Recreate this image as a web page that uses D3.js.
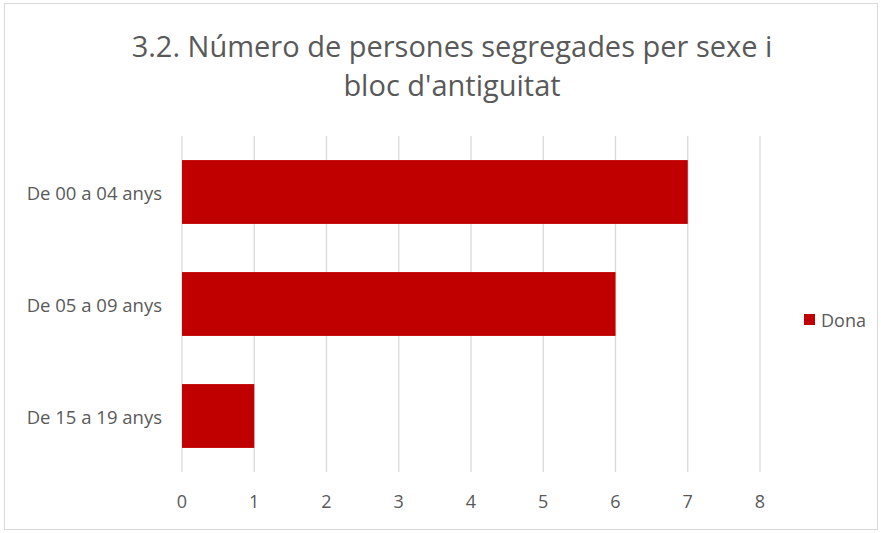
<!DOCTYPE html>
<html>
<head>
<meta charset="utf-8">
<script src="https://cdn.jsdelivr.net/npm/d3@7"></script>
<style>
  body { margin: 0; background: #fff; }
  text { font-family: "Open Sans", "Liberation Sans", sans-serif; fill: #595959; }
</style>
</head>
<body>
<div id="chart"></div>
<script>
// data
const categories = ["De 00 a 04 anys", "De 05 a 09 anys", "De 15 a 19 anys"];
const dona = [7, 6, 1];
const xTicks = [0, 1, 2, 3, 4, 5, 6, 7, 8];
const titleLines = ["3.2. Número de persones segregades per sexe i", "bloc d'antiguitat"];
const seriesName = "Dona";

const w = 881, h = 533;
const plotLeft = 182, plotRight = 760, plotTop = 136, plotBottom = 472;

const svg = d3.select("#chart")
  .append("svg")
  .attr("width", w)
  .attr("height", h);

// chart border
svg.append("rect")
  .attr("x", 4.5).attr("y", 3.5)
  .attr("width", 873).attr("height", 526)
  .attr("fill", "#fff")
  .attr("stroke", "#d9d9d9");

const x = d3.scaleLinear().domain([0, 8]).range([plotLeft, plotRight]);
const y = d3.scaleBand().domain(categories).range([plotTop, plotBottom]).paddingInner(0.43).paddingOuter(0.215);

// gridlines
svg.selectAll(".grid")
  .data(xTicks)
  .enter()
  .append("line")
  .attr("x1", d => x(d)).attr("x2", d => x(d))
  .attr("y1", plotTop).attr("y2", plotBottom)
  .attr("stroke", "#d9d9d9")
  .attr("stroke-width", 1.3);

// bars
svg.selectAll(".bar")
  .data(categories)
  .enter()
  .append("rect")
  .attr("x", x(0))
  .attr("y", d => y(d))
  .attr("width", (d, i) => x(dona[i]) - x(0))
  .attr("height", y.bandwidth())
  .attr("fill", "#c00000");

// x tick labels
svg.selectAll(".xt")
  .data(xTicks)
  .enter()
  .append("text")
  .attr("x", d => x(d))
  .attr("y", 501)
  .attr("text-anchor", "middle")
  .attr("dominant-baseline", "central")
  .attr("font-size", 18)
  .text(d => d);

// category labels
svg.selectAll(".yt")
  .data(categories)
  .enter()
  .append("text")
  .attr("x", 162)
  .attr("y", d => y(d) + y.bandwidth() / 2)
  .attr("text-anchor", "end")
  .attr("dominant-baseline", "central")
  .attr("font-size", 18.5)
  .text(d => d);

// title
svg.selectAll(".title")
  .data(titleLines)
  .enter()
  .append("text")
  .attr("x", 452)
  .attr("y", (d, i) => 45 + i * 39)
  .attr("text-anchor", "middle")
  .attr("dominant-baseline", "central")
  .attr("font-size", 29)
  .text(d => d);

// legend
svg.append("rect")
  .attr("x", 804).attr("y", 314)
  .attr("width", 11).attr("height", 11)
  .attr("fill", "#c00000");
svg.append("text")
  .attr("x", 821).attr("y", 320)
  .attr("dominant-baseline", "central")
  .attr("font-size", 18)
  .text(seriesName);
</script>
</body>
</html>
